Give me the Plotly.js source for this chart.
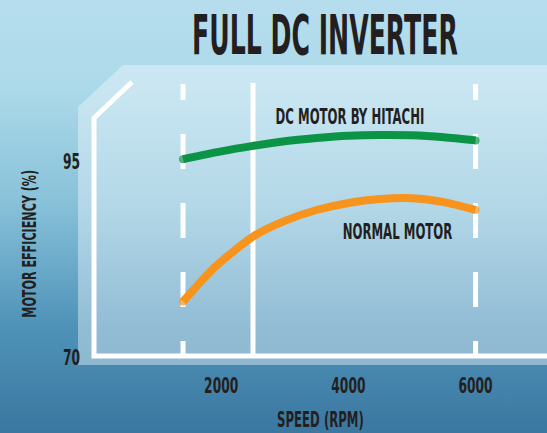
<!DOCTYPE html>
<html><head><meta charset="utf-8">
<script src="https://cdn.plot.ly/plotly-3.0.1.min.js"></script>
<style>
html,body{margin:0;padding:0;width:547px;height:433px;overflow:hidden;}
body{background:linear-gradient(to bottom,#b6dded 0%,#addaea 20%,#86c0d8 48%,#4f93b9 75%,#3b77a0 100%);}
#chart{width:547px;height:433px;}
</style></head><body><div id="chart"></div>
<script>
// ---- data ----
const speedTicks = [2000, 4000, 6000];
const effTicks = [70, 95];
const hitachiRpm = [1400, 2000, 2500, 3000, 3500, 4000, 4500, 5000, 5500, 6000];
const hitachiEff = [95.3, 96.3, 97.0, 97.6, 98.0, 98.3, 98.4, 98.35, 98.1, 97.7];
const normalRpm = [1400, 1900, 2500, 3000, 3500, 4000, 4500, 5000, 5500, 6000];
const normalEff = [77.1, 81.5, 85.4, 87.4, 88.8, 89.7, 90.2, 90.3, 89.8, 88.8];
const guideRpm = [1400, 2500, 6000];
const guideDashed = [true, false, true];
const seriesNames = ['DC MOTOR BY HITACHI', 'NORMAL MOTOR'];
const titleText = 'FULL DC INVERTER';
const xTitle = 'SPEED (RPM)';
const yTitle = 'MOTOR EFFICIENCY (%)';

const FONT = "'DejaVu Sans Condensed','DejaVu Sans',sans-serif";
const INK = '#231f20';
const GREEN = '#0b9445';
const ORANGE = '#f7941d';

function capSizes(arr, s) { return arr.map((_, i) => (i === 0 || i === arr.length - 1) ? s : 0); }

const traces = [
  {x: hitachiRpm, y: hitachiEff, name: seriesNames[0], mode: 'lines+markers',
   line: {color: GREEN, width: 8, shape: 'spline', smoothing: 0.7},
   marker: {color: GREEN, size: capSizes(hitachiRpm, 8), line: {width: 0}},
   hoverinfo: 'skip', showlegend: false},
  {x: normalRpm, y: normalEff, name: seriesNames[1], mode: 'lines+markers',
   line: {color: ORANGE, width: 8, shape: 'spline', smoothing: 0.7},
   marker: {color: ORANGE, size: capSizes(normalRpm, 8), line: {width: 0}},
   hoverinfo: 'skip', showlegend: false}
];

const shapes = [
  {type: 'path', xref: 'paper', yref: 'paper', layer: 'below',
   path: 'M -0.0353,-0.0274 L -0.0353,0.856 L 0.064,1 L 1.01,1 L 1.01,-0.0274 Z',
   fillcolor: 'rgba(240,247,252,0.42)', line: {width: 0}},
  {type: 'path', xref: 'paper', yref: 'paper', layer: 'below',
   path: 'M 0.0839,0.9418 L 0,0.8185 L 0,0.003 L 1.01,0.003',
   line: {color: 'white', width: 5}}
];
guideRpm.forEach((r, i) => {
  shapes.push({type: 'line', xref: 'x', yref: 'paper', layer: 'below',
    x0: r, x1: r, y0: 0, y1: 0.938,
    line: {color: 'white', width: 5,
      dash: guideDashed[i] ? '16px,34px,35px,34px,35px,34px,35px,34px,16px' : 'solid'}});
});

const layout = {
  width: 547, height: 433,
  margin: {l: 94, r: 0, t: 65, b: 76, pad: 0},
  paper_bgcolor: 'rgba(0,0,0,0)', plot_bgcolor: 'rgba(0,0,0,0)',
  showlegend: false,
  title: {text: titleText, x: 0.594, xref: 'container', y: 0.921, yref: 'container',
          xanchor: 'center', yanchor: 'middle',
          font: {family: FONT, size: 56, weight: 700, color: INK}},
  xaxis: {range: [0, 7123], tickvals: speedTicks, ticktext: speedTicks.map(String),
          ticks: '', showgrid: false, zeroline: false, showline: false,
          ticklabelstandoff: 13,
          tickfont: {family: FONT, size: 22, weight: 700, color: INK},
          title: {text: xTitle, standoff: 15, font: {family: FONT, size: 21, weight: 700, color: INK}}},
  yaxis: {range: [70, 107.34], tickvals: effTicks, ticktext: effTicks.map(String),
          ticks: '', showgrid: false, zeroline: false, showline: false,
          ticklabelstandoff: 13,
          tickfont: {family: FONT, size: 22, weight: 700, color: INK}},
  shapes: shapes,
  annotations: [
    {x: 4030, y: 100.69, xref: 'x', yref: 'y', text: seriesNames[0], showarrow: false,
     xanchor: 'center', yanchor: 'middle', font: {family: FONT, size: 21, weight: 700, color: INK}},
    {x: 4777, y: 85.98, xref: 'x', yref: 'y', text: seriesNames[1], showarrow: false,
     xanchor: 'center', yanchor: 'middle', font: {family: FONT, size: 21, weight: 700, color: INK}},
    {x: -0.1435, y: 0.390, xref: 'paper', yref: 'paper', text: yTitle, showarrow: false,
     textangle: -90, xanchor: 'center', yanchor: 'middle',
     font: {family: FONT, size: 20, weight: 700, color: INK}}
  ]
};

// narrow the letterforms horizontally (the reference uses a condensed face)
function condense(gd) {
  gd.querySelectorAll('svg text').forEach(t => {
    const s = t.classList.contains('gtitle') ? 0.5 : 0.62;
    const bb = t.getBBox();
    if (!bb.width) return;
    const anchor = t.getAttribute('text-anchor') || getComputedStyle(t).textAnchor || 'start';
    let ax = bb.x + bb.width / 2;
    if (anchor === 'start') ax = bb.x;
    else if (anchor === 'end') ax = bb.x + bb.width;
    const ay = bb.y + bb.height / 2;
    const prev = t.getAttribute('transform') || '';
    t.setAttribute('transform', prev + ' translate(' + ax + ',' + ay + ') scale(' + s + ',1) translate(' + (-ax) + ',' + (-ay) + ')');
  });
}

Plotly.newPlot('chart', traces, layout, {staticPlot: true, displayModeBar: false})
  .then(gd => condense(gd));
</script></body></html>
